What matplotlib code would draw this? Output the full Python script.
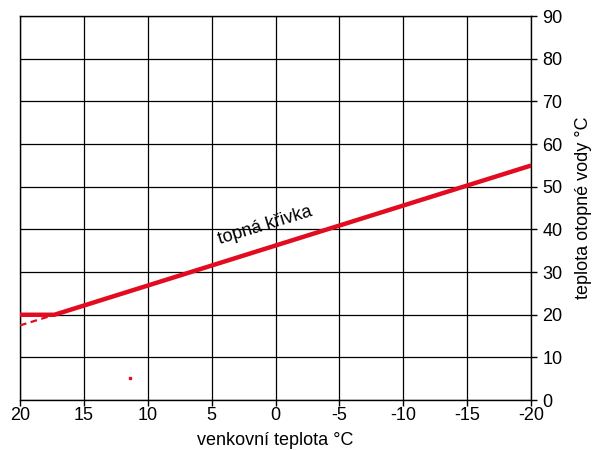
import matplotlib.pyplot as plt

plt.rcParams['font.family'] = ['Liberation Sans', 'DejaVu Sans']
plt.rcParams['axes.unicode_minus'] = False

# heating curve (outdoor temp -> water temp)
curve_x = [20, 17.3, -20]
curve_y = [20, 20, 55]
dash_x = [20, 17.3]
dash_y = [17.5, 20]
dot_x = [11.4]
dot_y = [5.2]

fig = plt.figure(figsize=(6, 4.5), dpi=100)
ax = fig.add_axes([0.0333, 0.111, 0.852, 0.853])

ax.plot(curve_x, curve_y, color='#e30b1f', linewidth=3.2, solid_capstyle='butt', zorder=3)
ax.plot(dash_x, dash_y, color='#e30b1f', linewidth=1.6, linestyle=(0, (3, 2)), zorder=3)
ax.plot(dot_x, dot_y, 's', color='#e30b1f', markersize=1.5, zorder=3)

ax.text(0.8, 41, 'topná křivka', rotation=17, fontsize=13,
        ha='center', va='center')

ax.set_xlim(20, -20)
ax.set_ylim(0, 90)
ax.set_xticks(range(20, -21, -5))
ax.set_yticks(range(0, 91, 10))

ax.yaxis.tick_right()
ax.yaxis.set_label_position('right')
ax.tick_params(axis='both', labelsize=13, length=4, width=1, color='black')
ax.tick_params(axis='x', pad=1)
ax.tick_params(axis='y', pad=4)
ax.set_xlabel('venkovní teplota °C', fontsize=13, labelpad=6)
ax.set_ylabel('teplota otopné vody °C', fontsize=13, labelpad=9)

ax.grid(True, color='black', linewidth=0.9)
for s in ax.spines.values():
    s.set_linewidth(1)
    s.set_color('black')

fig.savefig('out.png', dpi=100)
